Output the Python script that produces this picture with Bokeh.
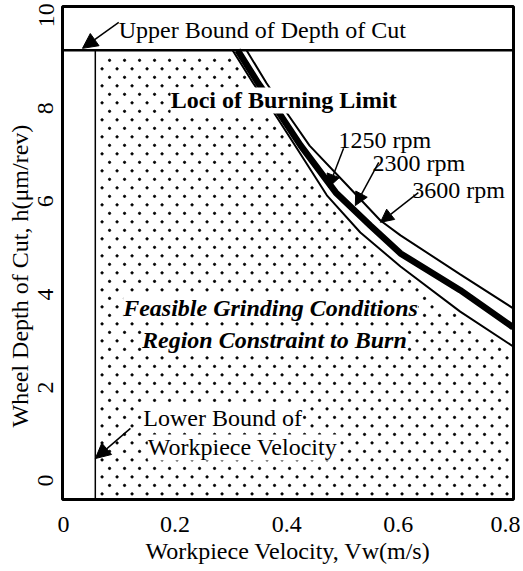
import numpy as np
from bokeh.plotting import figure
from bokeh.models import Range1d, Label, Arrow, NormalHead, FixedTicker, Span, Title
from bokeh.embed import file_html
from bokeh.resources import INLINE

# ---- data ----
vw_1250 = [0.303, 0.340, 0.378, 0.415, 0.472, 0.532, 0.604, 0.711, 0.806]
h_1250 = [9.25, 8.54, 7.89, 7.20, 6.13, 5.33, 4.60, 3.63, 2.88]

vw_2300 = [0.312, 0.349, 0.387, 0.425, 0.488, 0.550, 0.604, 0.711, 0.806]
h_2300 = [9.25, 8.54, 7.89, 7.20, 6.19, 5.48, 4.88, 4.09, 3.29]

vw_3600 = [0.328, 0.364, 0.401, 0.441, 0.505, 0.568, 0.604, 0.711, 0.806]
h_3600 = [9.25, 8.54, 7.89, 7.20, 6.39, 5.59, 5.27, 4.43, 3.70]

upper_bound_h = 9.25      # upper bound of depth of cut
lower_bound_vw = 0.057    # lower bound of workpiece velocity

x_ticks = [0, 0.2, 0.4, 0.6, 0.8]
x_tick_labels = {0: "0", 0.2: "0.2", 0.4: "0.4", 0.6: "0.6", 0.8: "0.8"}
y_ticks = [0, 2, 4, 6, 8, 10]

X0, X1 = -0.0018, 0.8065
Y0, Y1 = -0.41, 10.19

FONT = "Liberation Serif"
FS = "24px"

p = figure(width=520, height=571, output_backend="svg", toolbar_location=None,
           x_range=Range1d(X0, X1), y_range=Range1d(Y0, Y1),
           min_border_left=62, min_border_right=7, min_border_top=6,
           min_border_bottom=72)
p.grid.visible = False
p.background_fill_color = "white"
p.border_fill_color = "white"
p.outline_line_color = "black"
p.outline_line_width = 3
p.outline_line_alpha = 1.0

for ax in (p.xaxis[0], p.yaxis[0]):
    ax.axis_line_color = None
    ax.major_tick_out = 0
    ax.major_tick_in = 0
    ax.minor_tick_out = 0
    ax.minor_tick_in = 0
    ax.major_label_text_font = FONT
    ax.major_label_text_font_size = FS
    ax.major_label_text_color = "black"

p.xaxis[0].ticker = FixedTicker(ticks=x_ticks)
p.xaxis[0].major_label_overrides = x_tick_labels
p.xaxis[0].major_label_standoff = 17
p.xaxis[0].axis_label = "Workpiece Velocity, Vw(m/s)"
p.xaxis[0].axis_label_text_font = FONT
p.xaxis[0].axis_label_text_font_size = FS
p.xaxis[0].axis_label_text_font_style = "normal"
p.xaxis[0].axis_label_text_color = "black"
p.xaxis[0].axis_label_standoff = 3

p.yaxis[0].ticker = FixedTicker(ticks=y_ticks)
p.yaxis[0].major_label_orientation = "parallel"
p.yaxis[0].major_label_standoff = 9

# y axis title
p.add_layout(Title(text="Wheel Depth of Cut, h(\u03bcm/rev)", align="left", offset=72,
                   standoff=6, text_font=FONT, text_font_size=FS,
                   text_font_style="normal", text_color="black"), "left")

# dotted texture of the feasible region (below the 1250 rpm locus)
sx = 15.0 / 558.0
sy = 8.5 / 46.5
dot_x, dot_y = [], []
for i, yy in enumerate(np.arange(Y0 + 0.12, upper_bound_h, sy)):
    xs = np.arange(lower_bound_vw + sx * (0.45 + 0.5 * (i % 2)), X1, sx)
    lim = np.interp(xs, vw_1250, h_1250) - 0.12
    keep = (yy < lim) & (yy < upper_bound_h - 0.1)
    dot_x.extend(xs[keep].tolist())
    dot_y.extend([yy] * int(keep.sum()))
p.scatter(dot_x, dot_y, size=2.3, color="black", marker="circle")

# loci of burning limit
p.line(vw_1250, h_1250, line_color="black", line_width=2)
p.line(vw_2300, h_2300, line_color="black", line_width=6.5)
p.line(vw_3600, h_3600, line_color="black", line_width=2)

# bounds
p.add_layout(Span(location=upper_bound_h, dimension="width", line_color="black", line_width=2.5))
p.segment(x0=[lower_bound_vw], y0=[Y0 - 0.5], x1=[lower_bound_vw], y1=[upper_bound_h],
          line_color="black", line_width=1.5)

def lab(x, y, text, align="left", style="normal", bg=None):
    l = Label(x=x, y=y, text=text, text_font=FONT, text_font_size=FS,
              text_font_style=style, text_color="black", text_align=align,
              text_baseline="middle", background_fill_color=bg)
    p.add_layout(l)

lab(0.099, 9.68, "Upper Bound of Depth of Cut")
lab(0.192, 8.17, "Loci of Burning Limit", style="bold", bg="white")
lab(0.493, 7.33, "1250 rpm")
lab(0.554, 6.82, "2300 rpm")
lab(0.625, 6.24, "3600 rpm")
lab(0.371, 3.70, "Feasible Grinding Conditions", align="center", style="bold italic", bg="white")
lab(0.378, 3.01, "Region Constraint to Burn", align="center", style="bold italic", bg="white")
lab(0.143, 1.35, "Lower Bound of", bg="white")
lab(0.151, 0.71, "Workpiece Velocity", bg="white")

def arrow(x0, y0, x1, y1, size=13):
    p.add_layout(Arrow(end=NormalHead(size=size, fill_color="black", line_color="black"),
                       x_start=x0, y_start=y0, x_end=x1, y_end=y1,
                       line_color="black", line_width=1.5))

arrow(0.099, 9.85, 0.034, 9.29, 15)
arrow(0.120, 1.12, 0.057, 0.47, 15)
arrow(0.502, 7.14, 0.475, 6.30)
arrow(0.565, 6.84, 0.523, 5.91)
arrow(0.636, 6.19, 0.568, 5.55)

open("out.html", "w").write(file_html(p, INLINE))
